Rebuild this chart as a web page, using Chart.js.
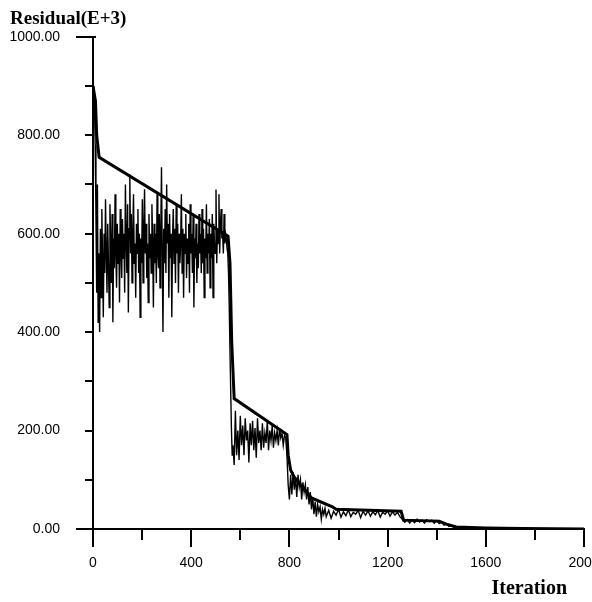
<!DOCTYPE html>
<html>
<head>
<meta charset="utf-8">
<script src="https://cdn.jsdelivr.net/npm/chart.js@4.4.0/dist/chart.umd.min.js"></script>
<style>
  body { margin: 0; background: #fff; }
</style>
</head>
<body>
<canvas id="residualChart" width="592" height="602"></canvas>
<script>
// Residual of every iteration (thin, noisy line)
const residualIter = [
  0, 3, 6, 9, 12, 15, 18, 21, 24, 27,
  30, 33, 36, 39, 42, 45, 48, 51, 54, 57,
  60, 63, 66, 69, 72, 75, 78, 81, 84, 87,
  90, 93, 96, 99, 102, 105, 108, 111, 114, 117,
  120, 123, 126, 129, 132, 135, 138, 141, 144, 147,
  150, 153, 156, 159, 162, 165, 168, 171, 174, 177,
  180, 183, 186, 189, 192, 195, 198, 201, 204, 207,
  210, 213, 216, 219, 222, 225, 228, 231, 234, 237,
  240, 243, 246, 249, 252, 255, 258, 261, 264, 267,
  270, 273, 276, 279, 282, 285, 288, 291, 294, 297,
  300, 303, 306, 309, 312, 315, 318, 321, 324, 327,
  330, 333, 336, 339, 342, 345, 348, 351, 354, 357,
  360, 363, 366, 369, 372, 375, 378, 381, 384, 387,
  390, 393, 396, 399, 402, 405, 408, 411, 414, 417,
  420, 423, 426, 429, 432, 435, 438, 441, 444, 447,
  450, 453, 456, 459, 462, 465, 468, 471, 474, 477,
  480, 483, 486, 489, 492, 495, 498, 501, 504, 507,
  510, 513, 516, 519, 522, 525, 528, 531, 534, 537,
  540, 543, 546, 549, 552, 555, 558, 561, 564, 567,
  570, 575, 580, 585, 590, 595,
  600, 605, 610, 615, 620, 625, 630, 635, 640, 645, 650, 655, 660, 665, 670, 675, 680, 685, 690, 695,
  700, 705, 710, 715, 720, 725, 730, 735, 740, 745, 750, 755, 760, 765, 770, 775, 780, 785, 790, 795,
  800, 805, 810, 815, 820, 825, 830, 835, 840, 845, 850, 855, 860, 865, 870, 875, 880, 885, 890, 895,
  900, 905, 910, 915, 920, 925, 930, 935, 940, 945, 950, 960, 970, 980, 990,
  1000, 1010, 1020, 1030, 1040, 1050, 1060, 1070, 1080, 1090, 1100, 1110, 1120, 1130, 1140, 1150, 1160, 1170, 1180, 1190,
  1200, 1210, 1220, 1230, 1240, 1250, 1260, 1270, 1280, 1290, 1300, 1310, 1320, 1330, 1340, 1350, 1360, 1370, 1380, 1390,
  1400, 1410, 1420, 1430, 1440, 1450, 1460, 1470, 1480, 1490, 1500, 1520, 1540, 1560, 1580, 1600, 1650, 1700, 1750, 1800
];
const residualValue = [
  900, 890, 860, 780, 640, 480, 700, 420, 560, 400,
  610, 470, 650, 540, 430, 600, 520, 670, 560, 480,
  620, 540, 450, 660, 580, 500, 640, 420, 590, 530,
  680, 560, 490, 620, 540, 600, 460, 650, 570, 510,
  630, 550, 600, 480, 700, 590, 520, 660, 440, 610,
  720, 560, 640, 500, 600, 680, 540, 580, 470, 620,
  560, 650, 520, 600, 430, 590, 540, 670, 500, 610,
  690, 560, 620, 510, 580, 460, 640, 550, 600, 520,
  660, 580, 450, 620, 540, 600, 500, 680, 560, 530,
  640, 490, 600, 735, 560, 400, 610, 540, 650, 520,
  700, 580, 620, 470, 640, 550, 600, 430, 590, 650,
  540, 610, 500, 660, 560, 620, 480, 600, 540, 580,
  680, 520, 610, 470, 600, 560, 640, 510, 590, 540,
  620, 480, 660, 560, 600, 520, 640, 450, 590, 550,
  620, 500, 580, 530, 640, 560, 600, 520, 650, 540,
  610, 470, 590, 550, 660, 520, 600, 560, 630, 490,
  600, 550, 640, 470, 620, 580, 560, 690, 540, 610,
  580, 680, 560, 620, 650, 590, 600, 560, 640, 580,
  600, 590, 570, 560, 520, 450, 360, 280, 200, 150,
  170, 130, 240, 150, 200, 140,
  230, 170, 210, 150, 225, 180, 200, 135, 215, 170, 220, 160, 205, 145, 225, 175, 200, 160, 215, 165,
  195, 175, 220, 160, 200, 180, 210, 165, 195, 180, 200, 170, 205, 185, 195, 170, 190, 185, 150, 90,
  60, 110, 70, 115, 80, 105, 65, 110, 85, 100, 60, 95, 75, 90, 60, 85, 50, 75, 40, 65,
  30, 55, 25, 50, 35, 45, 20, 40, 30, 42, 25, 38, 22, 36, 28,
  40, 24, 35, 27, 39, 25, 34, 30, 38, 23, 36, 28, 37, 26, 35, 29, 38, 24, 34, 30,
  37, 26, 35, 28, 34, 25, 20, 14, 19, 12, 18, 13, 20, 14, 18, 12, 19, 15, 18, 12,
  17, 11, 14, 8, 10, 5, 7, 3, 4, 2, 3, 2, 3, 1, 2, 1, 2, 1, 1, 0
];

// Best residual found so far (thick line)
const bestIter  = [0, 10, 15, 25, 550, 558, 565, 575, 790, 795, 805, 820, 890, 975, 990, 1255, 1265, 1410, 1440, 1480, 1600, 1750, 2000];
const bestValue = [900, 870, 800, 755, 595, 540, 380, 265, 192, 150, 120, 105, 63, 45, 40, 36, 18, 16, 10, 4, 2, 1, 0];

const yTitle = 'Residual(E+3)';
const xTitle = 'Iteration';

const toPoints = (xs, ys) => xs.map((x, i) => ({ x: x, y: ys[i] }));

// Tick marks of different lengths and the x axis title
const axisTicks = {
  id: 'axisTicks',
  afterDraw(chart) {
    const ctx = chart.ctx;
    const xs = chart.scales.x, ys = chart.scales.y;
    const x0 = xs.left, y0 = ys.bottom;
    ctx.save();
    ctx.strokeStyle = '#000';
    ctx.lineWidth = 2;
    ys.ticks.forEach(t => {
      const py = Math.round(ys.getPixelForValue(t.value));
      const long = t.value === 0 || t.value === 1000;
      ctx.beginPath();
      ctx.moveTo(x0 - (long ? 17 : 8), py);
      ctx.lineTo(x0 + (t.value === 1000 ? 3 : 0), py);
      ctx.stroke();
    });
    xs.ticks.forEach(t => {
      const px = Math.round(xs.getPixelForValue(t.value));
      ctx.beginPath();
      ctx.moveTo(px, y0);
      ctx.lineTo(px, y0 + (t.value % 400 === 0 ? 18 : 11));
      ctx.stroke();
    });
    ctx.fillStyle = '#000';
    ctx.font = 'bold 20px "Liberation Serif", "Times New Roman", serif';
    ctx.textAlign = 'right';
    ctx.textBaseline = 'alphabetic';
    ctx.fillText(xTitle, xs.right - 17, chart.height - 8);
    ctx.restore();
  }
};

const tickFont = { family: '"Liberation Sans", Arial, sans-serif', size: 14 };

new Chart(document.getElementById('residualChart'), {
  type: 'line',
  data: {
    datasets: [
      {
        data: toPoints(residualIter, residualValue),
        borderColor: '#000',
        borderWidth: 1.4,
        pointRadius: 0,
        tension: 0,
        fill: false
      },
      {
        data: toPoints(bestIter, bestValue),
        borderColor: '#000',
        borderWidth: 3,
        pointRadius: 0,
        tension: 0,
        fill: false
      }
    ]
  },
  options: {
    responsive: false,
    animation: false,
    layout: { padding: { left: 10, right: 8, top: 0, bottom: 0 } },
    plugins: {
      legend: { display: false },
      tooltip: { enabled: false },
      title: {
        display: true,
        text: yTitle,
        align: 'start',
        color: '#000',
        font: { family: '"Liberation Serif", "Times New Roman", serif', size: 19, weight: 'bold' },
        padding: { top: 8, bottom: 6 }
      }
    },
    scales: {
      x: {
        type: 'linear',
        min: 0,
        max: 2000,
        border: { color: '#000', width: 2 },
        grid: { drawOnChartArea: false, drawTicks: false },
        ticks: {
          stepSize: 200,
          autoSkip: false,
          maxRotation: 0,
          padding: 26,
          color: '#000',
          font: tickFont,
          callback: v => (v % 400 === 0 ? String(v) : '')
        },
        afterFit(scale) {
          scale.height = 73;
          scale.paddingLeft = 0;
          scale.paddingRight = 0;
        }
      },
      y: {
        min: 0,
        max: 1000,
        border: { color: '#000', width: 2 },
        grid: { drawOnChartArea: false, drawTicks: false },
        ticks: {
          stepSize: 100,
          autoSkip: false,
          padding: 33,
          color: '#000',
          font: tickFont,
          callback: v => (v % 200 === 0 ? v.toFixed(2) : '')
        },
        afterFit(scale) {
          scale.width = 83;
          scale.paddingTop = 0;
          scale.paddingBottom = 0;
        }
      }
    }
  },
  plugins: [axisTicks]
});
</script>
</body>
</html>
